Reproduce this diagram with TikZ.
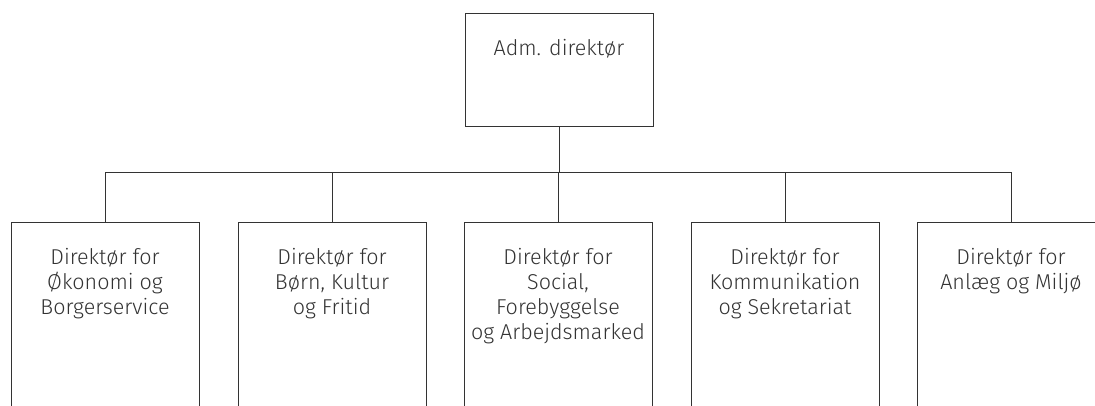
\documentclass[tikz,border=0pt]{standalone}
\usepackage{fontspec}
\setmainfont{Fira Sans Light}
\definecolor{ink}{HTML}{333333}
\begin{document}
\begin{tikzpicture}[x=1pt,y=-1pt,
  boxstyle/.style={draw=ink,line width=0.9pt,minimum width=188pt,inner sep=0pt,anchor=north},
  txt/.style={anchor=north,align=center,inner sep=0pt,text=ink,font=\fontsize{21.5}{25}\selectfont},
  conn/.style={draw=ink,line width=0.9pt}]
\useasboundingbox (0,0) rectangle (1095,405);
\clip (0,0) rectangle (1095,405);
\node[boxstyle,minimum height=113pt] (top) at (559,13) {};
\node[txt] (tt) at ([yshift=-26pt]top.north) {Adm. direktør};
\foreach \i/\xx in {1/105,2/332,3/558,4/785,5/1011}{
  \node[boxstyle,minimum height=220pt] (b\i) at (\xx,222) {};
}
\node[txt] (t1) at ([yshift=-26pt]b1.north) {Direktør for\\Økonomi og\\Borgerservice};
\node[txt] (t2) at ([yshift=-26pt]b2.north) {Direktør for\\Børn, Kultur\\og Fritid};
\node[txt] (t3) at ([yshift=-26pt]b3.north) {Direktør for\\Social,\\Forebyggelse\\og Arbejdsmarked};
\node[txt] (t4) at ([yshift=-26pt]b4.north) {Direktør for\\Kommunikation\\og Sekretariat};
\node[txt] (t5) at ([yshift=-26pt]b5.north) {Direktør for\\Anlæg og Miljø};
\coordinate (bus) at (559,172);
\foreach \i in {1,...,5}{
  \draw[conn] (top.south) -- (top.south |- bus) -| (b\i.north);
}
\end{tikzpicture}
\end{document}
